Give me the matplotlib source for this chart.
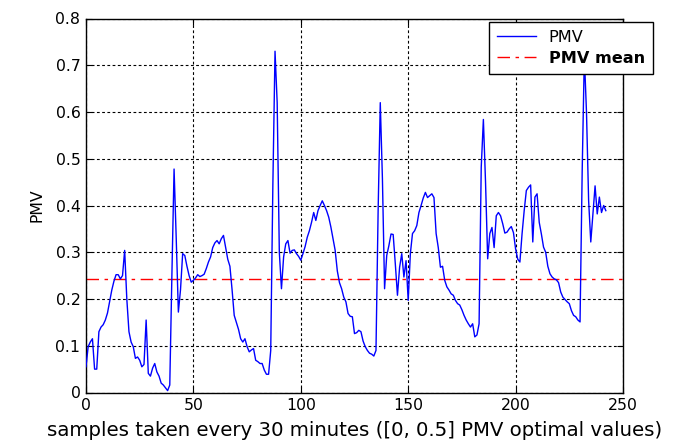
import numpy as np
import matplotlib
matplotlib.use("Agg")
import matplotlib.pyplot as plt

pmv = [
    0.055, 0.098, 0.108, 0.115, 0.050, 0.050, 0.130, 0.140, 0.145, 0.155,
    0.170, 0.195, 0.219, 0.238, 0.252, 0.252, 0.243, 0.250, 0.304, 0.200,
    0.130, 0.108, 0.098, 0.073, 0.076, 0.069, 0.055, 0.060, 0.155, 0.041,
    0.035, 0.052, 0.062, 0.044, 0.035, 0.020, 0.016, 0.010, 0.004, 0.016,
    0.254, 0.478, 0.330, 0.172, 0.220, 0.297, 0.293, 0.270, 0.250, 0.236,
    0.240, 0.245, 0.252, 0.248, 0.250, 0.253, 0.265, 0.279, 0.290, 0.310,
    0.320, 0.325, 0.318, 0.329, 0.336, 0.311, 0.285, 0.270, 0.220, 0.165,
    0.150, 0.135, 0.115, 0.108, 0.115, 0.098, 0.087, 0.091, 0.094, 0.069,
    0.066, 0.062, 0.062, 0.048, 0.039, 0.039, 0.090, 0.446, 0.730, 0.620,
    0.300, 0.222, 0.290, 0.318, 0.325, 0.298, 0.304, 0.305, 0.297, 0.291,
    0.283, 0.297, 0.312, 0.332, 0.346, 0.364, 0.385, 0.368, 0.389, 0.400,
    0.410, 0.400, 0.389, 0.375, 0.354, 0.329, 0.304, 0.260, 0.235, 0.222,
    0.204, 0.194, 0.169, 0.163, 0.162, 0.126, 0.128, 0.133, 0.130, 0.110,
    0.098, 0.090, 0.084, 0.082, 0.078, 0.090, 0.389, 0.620, 0.457, 0.222,
    0.293, 0.314, 0.339, 0.338, 0.275, 0.208, 0.268, 0.297, 0.247, 0.282,
    0.197, 0.297, 0.340, 0.346, 0.357, 0.385, 0.400, 0.416, 0.428, 0.417,
    0.421, 0.425, 0.417, 0.340, 0.310, 0.268, 0.270, 0.240, 0.226, 0.219,
    0.211, 0.208, 0.197, 0.190, 0.187, 0.177, 0.165, 0.155, 0.147, 0.140,
    0.147, 0.119, 0.123, 0.147, 0.482, 0.584, 0.450, 0.286, 0.340, 0.353,
    0.310, 0.378, 0.385, 0.378, 0.361, 0.341, 0.343, 0.350, 0.355, 0.342,
    0.307, 0.285, 0.279, 0.339, 0.389, 0.432, 0.439, 0.444, 0.322, 0.418,
    0.425, 0.364, 0.339, 0.311, 0.300, 0.270, 0.254, 0.247, 0.243, 0.241,
    0.235, 0.215, 0.204, 0.199, 0.194, 0.190, 0.175, 0.165, 0.162, 0.155,
    0.151, 0.474, 0.720, 0.600, 0.410, 0.322, 0.382, 0.442, 0.382, 0.418,
    0.385, 0.400, 0.389,
]
pmv_mean = 0.242

x_ticks = [0, 50, 100, 150, 200, 250]
y_ticks = [0, 0.1, 0.2, 0.3, 0.4, 0.5, 0.6, 0.7, 0.8]
y_tick_labels = ["0", "0.1", "0.2", "0.3", "0.4", "0.5", "0.6", "0.7", "0.8"]
x_label = "samples taken every 30 minutes ([0, 0.5] PMV optimal values)"
y_label = "PMV"
legend_labels = ["PMV", "PMV mean"]

plt.rcParams["font.family"] = ["DejaVu Sans"]
fs = 11.3

fig = plt.figure(figsize=(6.8, 4.47), dpi=100)
ax = fig.add_axes([86 / 680, 1 - 392.5 / 447, (623 - 86) / 680, (392.5 - 18.5) / 447])

xs = np.arange(len(pmv))
l1, = ax.plot(xs, pmv, color="#0000ff", lw=1.0, zorder=3)
l2 = ax.axhline(pmv_mean, color="#ff0000", lw=1.0, linestyle=(0, (9, 4, 2.5, 4)), zorder=2)

ax.set_xlim(0, 250)
ax.set_ylim(0, 0.8)
ax.set_xticks(x_ticks)
ax.set_xticklabels([str(t) for t in x_ticks])
ax.set_yticks(y_ticks)
ax.set_yticklabels(y_tick_labels)
ax.tick_params(direction="in", length=4, width=0.8, labelsize=fs, pad=4,
               top=True, right=True, colors="black")
ax.grid(True, color="black", linestyle=(0, (2.5, 2.2)), linewidth=0.8)
for s in ax.spines.values():
    s.set_linewidth(1.0)
    s.set_color("black")

ax.set_xlabel(x_label, fontsize=14.2, labelpad=6)
ax.set_ylabel(y_label, fontsize=fs, labelpad=8)

leg = ax.legend([l1, l2], legend_labels, loc="upper right",
                bbox_to_anchor=(653 / 680, 1 - 22 / 447), bbox_transform=fig.transFigure,
                borderaxespad=0, fontsize=11.6, fancybox=False, framealpha=1,
                edgecolor="black", handlelength=2.4, handletextpad=0.8,
                borderpad=0.5, labelspacing=0.35)
leg.get_frame().set_linewidth(1.0)
leg.set_zorder(10)
leg.get_texts()[1].set_fontweight("bold")

fig.savefig("out.png", dpi=100)
